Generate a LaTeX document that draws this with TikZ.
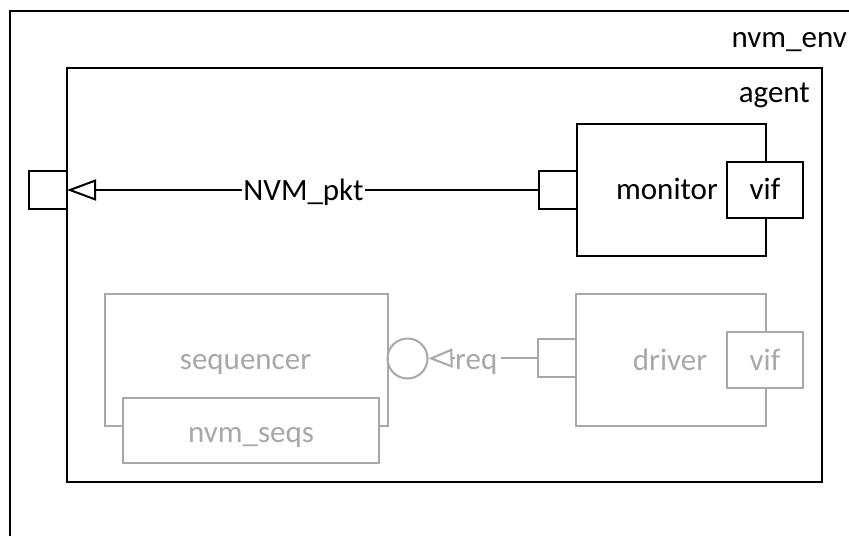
\documentclass[tikz,border=0pt]{standalone}
\usepackage{fontspec}
\setmainfont{Carlito}
\usetikzlibrary{arrows.meta}
\definecolor{dimgrey}{RGB}{168,168,168}
\tikzset{
  blk/.style={line width=2pt, draw=black},
  ghost/.style={line width=2pt, draw=dimgrey, text=dimgrey},
  lbl/.style={anchor=base, inner sep=0pt, font=\fontsize{31}{37}\selectfont},
  rectbox/.style 2 args={draw, minimum width=#1, minimum height=#2, inner sep=0pt, outer sep=0pt},
  opentip/.style={-{Triangle[open, length=29pt, width=21pt]}},
  smalltip/.style={-{Triangle[open, length=24pt, width=19pt]}}
}
\begin{document}
\begin{tikzpicture}[x=1pt, y=-1pt]
\useasboundingbox (0,0) rectangle (849,536);

% environment frame (runs off the page to the right and bottom)
\draw[blk] (9.5,536) -- (9.5,11) -- (849,11);
\node[lbl, anchor=base east] (envlbl) at (847,47) {nvm\_env};

% agent frame
\node[rectbox={755pt}{414pt}, blk] (agent) at (444.5,275) {};
\node[lbl, anchor=base east] (agentlbl) at (810,102) {agent};

% analysis port of the agent
\node[rectbox={38pt}{38pt}, blk, fill=white] (envport) at (48,190) {};

% monitor with its port and interface
\node[rectbox={189pt}{132pt}, blk] (monitor) at (671.5,190) {};
\node[rectbox={38pt}{38pt}, blk, fill=white] (monport) at (558,190) {};
\node[rectbox={76pt}{56pt}, blk, fill=white] (monvif) at (765,190) {};
\node[lbl] (montxt) at (667,199) {monitor};
\node[lbl] (monviftxt) at (765,199) {vif};

% analysis connection, broken by its label
\node[lbl, inner xsep=1pt] (pkt) at (303.5,200) {NVM\_pkt};
\draw[blk] (monport.west) -- (pkt.east |- monport);
\draw[blk, opentip] (pkt.west |- monport) -- (envport.east);

% sequencer, its sequence library and the driver (inactive)
\node[rectbox={283pt}{132pt}, ghost] (seqr) at (246.5,360) {};
\node[rectbox={256pt}{65pt}, ghost, fill=white] (seqs) at (251,430.5) {};
\node[lbl, text=dimgrey] (seqrtxt) at (245.5,369) {sequencer};
\node[lbl, text=dimgrey] (seqstxt) at (251,442) {nvm\_seqs};

\node[circle, ghost, minimum size=40pt, inner sep=0pt] (export) at (407.5,358.5) {};

\node[rectbox={190pt}{132pt}, ghost] (driver) at (671,360) {};
\node[rectbox={38pt}{38pt}, ghost, fill=white] (drvport) at (557,358) {};
\node[rectbox={76pt}{56pt}, ghost, fill=white] (drvvif) at (765,360) {};
\node[lbl, text=dimgrey] (drvtxt) at (670,370) {driver};
\node[lbl, text=dimgrey] (drvviftxt) at (765,370) {vif};

% request connection, broken by its label
\node[lbl, text=dimgrey, anchor=base west] (req) at (455,369) {req};
\draw[ghost] (drvport.west) -- ([xshift=3pt]req.east |- drvport);
\draw[ghost, smalltip] (req.west |- drvport) -- (export.east);
\end{tikzpicture}
\end{document}
